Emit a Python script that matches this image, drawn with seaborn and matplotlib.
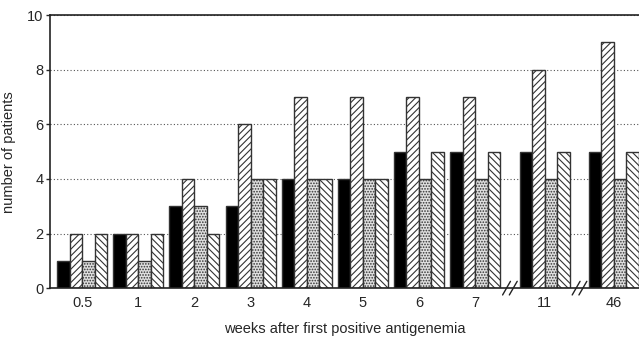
import pandas as pd
import seaborn as sns
import matplotlib.pyplot as plt
import matplotlib.transforms as mtransforms

# Data
weeks = ["0.5", "1", "2", "3", "4", "5", "6", "7", "11", "46"]
# positions along the axis (extra space where the axis is broken)
week_pos = [0, 1, 2, 3, 4, 5, 6, 7, 8.24, 9.47]
series_a = [1, 2, 3, 3, 4, 4, 5, 5, 5, 5]   # solid black
series_b = [2, 2, 4, 6, 7, 7, 7, 7, 8, 9]   # forward hatch
series_c = [1, 1, 3, 4, 4, 4, 4, 4, 4, 4]   # stippled
series_d = [2, 2, 2, 4, 4, 4, 5, 5, 5, 5]   # back hatch
series_names = ["a", "b", "c", "d"]

rows = []
for name, vals in zip(series_names, [series_a, series_b, series_c, series_d]):
    for p, v in zip(week_pos, vals):
        rows.append({"pos": p, "count": v, "series": name})
df = pd.DataFrame(rows)

sns.set_style("white")
plt.rcParams['font.family'] = ['Liberation Sans', 'DejaVu Sans']
plt.rcParams['hatch.linewidth'] = 0.8

fig = plt.figure(figsize=(6.39, 3.37), dpi=100)
ax = fig.add_axes([0.079, 0.145, 0.921, 0.81])

ax.set_axisbelow(True)
ax.yaxis.grid(True, linestyle=(0, (1, 2)), color="#555555", linewidth=0.8)

sns.barplot(data=df, x="pos", y="count", hue="series", hue_order=series_names,
            native_scale=True, width=0.89, dodge=True,
            palette=["black", "white", "#e0e0e0", "white"],
            edgecolor="#333333", linewidth=1.0, errorbar=None, legend=False, ax=ax)

hatches = [None, "/////", "......", "\\\\\\\\\\"]
for cont, h in zip(ax.containers, hatches):
    for bar in cont:
        if h:
            bar.set_hatch(h)

ax.set_xlim(-0.565, 9.92)
ax.set_ylim(0, 10)
ax.set_yticks([0, 2, 4, 6, 8, 10])
ax.set_xticks(week_pos)
ax.set_xticklabels(weeks)
ax.tick_params(axis="x", length=0, pad=6, labelsize=10.5)
ax.tick_params(axis="y", length=3, width=1, direction="out", left=True, pad=2, labelsize=10.5)
for side in ["left", "top", "bottom"]:
    ax.spines[side].set_linewidth(1.2)
    ax.spines[side].set_color("#222222")
ax.spines["right"].set_visible(False)

ax.set_xlabel("weeks after first positive antigenemia", fontsize=10.5, labelpad=8)
ax.set_ylabel("number of patients", fontsize=10.5, labelpad=8)

# axis break marks
trans = mtransforms.blended_transform_factory(ax.transData, ax.transAxes)
for xb in [7.62, 8.86]:
    for dx in [-0.06, 0.06]:
        ax.plot([xb + dx - 0.07, xb + dx + 0.07], [-0.025, 0.025], color="#222222",
                linewidth=1.0, transform=trans, clip_on=False)

plt.savefig("out.png", dpi=100)
